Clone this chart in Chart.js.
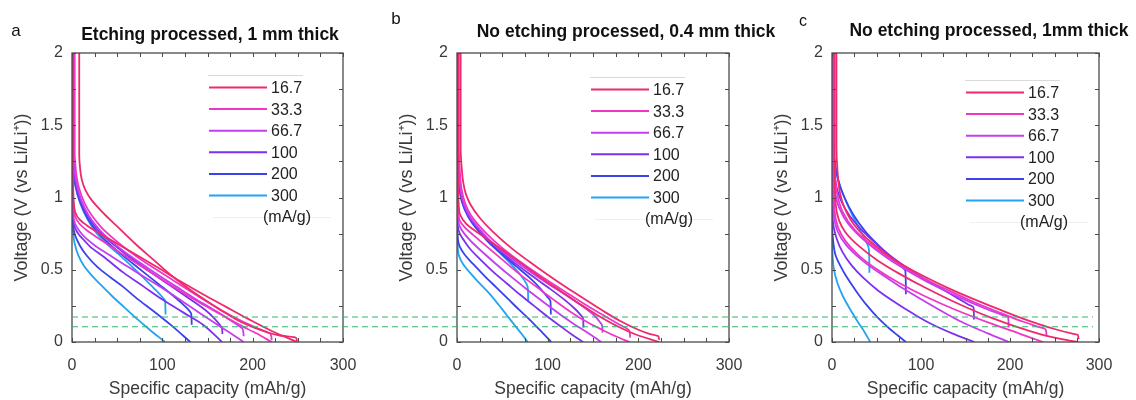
<!DOCTYPE html>
<html><head><meta charset="utf-8">
<script src="https://cdn.jsdelivr.net/npm/chart.js@4.4.1/dist/chart.umd.min.js"></script>
<style>
html,body{margin:0;padding:0;background:#fff;}
#wrap{position:relative;width:1136px;height:400px;overflow:hidden;font-family:"Liberation Sans",Arial,sans-serif;background:#fff;}
canvas{position:absolute;top:0;}
.ttl{position:absolute;font-weight:bold;font-size:17.5px;color:#111;white-space:nowrap;transform:translate(-50%,-50%);line-height:20px;}
.lbl{position:absolute;color:#111;white-space:nowrap;transform:translate(-50%,-50%);line-height:20px;}
</style></head>
<body>
<div id="wrap">
  <canvas id="ca" width="375" height="400" style="left:0px"></canvas>
  <canvas id="cb" width="375" height="400" style="left:380px"></canvas>
  <canvas id="cc" width="376" height="400" style="left:760px"></canvas>
  <canvas id="ov" width="1136" height="400" style="left:0px;pointer-events:none"></canvas>
  <div class="lbl" style="left:16px;top:31px;font-size:17px">a</div>
  <div class="lbl" style="left:396px;top:19px;font-size:17px">b</div>
  <div class="lbl" style="left:803px;top:21px;font-size:16px">c</div>
  <div class="ttl" style="left:210px;top:34px">Etching processed, 1 mm thick</div>
  <div class="ttl" style="left:626px;top:31px">No etching processed, 0.4 mm thick</div>
  <div class="ttl" style="left:989px;top:30px">No etching processed, 1mm thick</div>
</div>
<script>
// ---------- legend / ticks ----------
const rates = ['16.7','33.3','66.7','100','200','300'];
const rateUnit = '(mA/g)';
const colors = ['#ee2a6c','#f036c6','#c43ef0','#7b30f2','#3a42ee','#22a4f2'];
const xTickLabels = [0,100,200,300];
const yTickLabels = [0,0.5,1,1.5,2];
const refLevels = [0.173,0.106];   // green dashed reference voltages

// ---------- panel a: etching processed, 1 mm ----------  [capacity mAh/g, voltage V]
const a16U = [[8,2],[8,1.3],[9,1.2],[11,1.12],[15,1.05],[22,0.98],[35,0.89],[50,0.8],[70,0.68],[90,0.57],[110,0.46],[130,0.365],[150,0.28],[170,0.2],[190,0.13],[210,0.08],[230,0.045],[248,0.03],[249,0.005]];
const a33U = [[3,2],[3,1.3],[3.5,1.25],[5,1.15],[8,1.06],[14,0.96],[22,0.875],[33,0.79],[47,0.71],[62,0.635],[80,0.555],[100,0.475],[120,0.395],[140,0.315],[160,0.24],[180,0.17],[200,0.11],[213,0.075],[220,0.055],[221,0.012]];
const a66U = [[1.5,2],[1.5,1.35],[2,1.25],[3,1.17],[6,1.07],[11,0.97],[19,0.87],[30,0.78],[43,0.7],[58,0.625],[75,0.55],[95,0.465],[115,0.385],[135,0.305],[155,0.23],[172,0.165],[185,0.11],[189,0.09],[190,0.04]];
const a100U = [[1,2],[1,1.35],[1.5,1.25],[2.5,1.17],[5,1.07],[10,0.97],[18,0.87],[28,0.78],[41,0.7],[56,0.625],[72,0.55],[90,0.47],[110,0.385],[130,0.3],[148,0.22],[158,0.16],[164,0.115],[166,0.095],[166.5,0.055]];
const a200U = [[0,2],[0,1.35],[0.5,1.27],[1.5,1.19],[4,1.08],[9,0.97],[17,0.86],[27,0.77],[40,0.685],[54,0.61],[68,0.54],[82,0.47],[96,0.4],[110,0.33],[122,0.265],[130,0.215],[132,0.195],[132.5,0.12]];
const a300U = [[0,2],[0,1.35],[0.5,1.27],[1.5,1.19],[4,1.07],[9,0.96],[17,0.85],[27,0.755],[40,0.67],[53,0.6],[66,0.525],[79,0.445],[91,0.37],[100,0.31],[103,0.285],[103.5,0.19]];
const a16L = [[1,2],[1,1.2],[2,0.97],[3.5,0.9],[8,0.85],[18,0.8],[31,0.75],[50,0.68],[72,0.6],[95,0.515],[120,0.42],[145,0.33],[170,0.245],[195,0.16],[220,0.08],[249,0]];
const a33L = [[0.5,2],[0.5,1.15],[1.5,0.94],[3.3,0.87],[8,0.82],[17,0.77],[30,0.715],[48,0.64],[70,0.55],[94,0.455],[118,0.36],[142,0.27],[165,0.19],[185,0.12],[204,0.06],[221,0]];
const a66L = [[0.3,2],[0.3,1.1],[1.2,0.9],[3.3,0.82],[8,0.77],[15,0.72],[26,0.665],[42,0.6],[62,0.52],[84,0.435],[108,0.34],[132,0.24],[156,0.14],[174,0.067],[190,0]];
const a100L = [[0,2],[0,1.1],[1,0.86],[3.3,0.79],[8,0.74],[14,0.7],[20,0.66],[35,0.59],[57,0.48],[79,0.385],[101,0.29],[123,0.205],[145,0.12],[166,0]];
const a200L = [[0,2],[0,0.95],[1,0.81],[3.3,0.74],[8.5,0.67],[16,0.6],[28,0.52],[42,0.45],[56,0.385],[72,0.3],[90,0.215],[110,0.115],[131,0]];
const a300L = [[0,2],[0,0.9],[1,0.77],[3,0.68],[7,0.6],[13,0.53],[22,0.46],[32,0.395],[44,0.32],[57,0.245],[71,0.165],[87,0.08],[103,0]];

// ---------- panel b: no etching, 0.4 mm ----------
const b16U = [[4,2],[4,1.35],[5,1.22],[7,1.1],[10,1.02],[15,0.95],[25,0.86],[40,0.76],[60,0.65],[80,0.555],[100,0.465],[120,0.38],[140,0.3],[160,0.22],[180,0.145],[200,0.085],[213,0.055],[222,0.04],[223,0.015]];
const b33U = [[2,2],[2,1.35],[3,1.2],[5,1.06],[9,0.96],[15,0.88],[25,0.8],[40,0.705],[60,0.6],[80,0.51],[100,0.425],[120,0.345],[140,0.265],[160,0.19],[178,0.125],[188,0.09],[190,0.078],[191,0.03]];
const b66U = [[1,2],[1,1.35],[2,1.2],[4,1.05],[8,0.95],[15,0.86],[25,0.78],[40,0.68],[60,0.58],[80,0.49],[100,0.405],[120,0.325],[140,0.24],[152,0.18],[158,0.135],[160,0.115],[160.5,0.065]];
const b100U = [[0.5,2],[0.5,1.35],[1.5,1.2],[3.5,1.05],[7,0.95],[14,0.86],[25,0.77],[40,0.67],[60,0.565],[80,0.47],[100,0.38],[118,0.295],[130,0.23],[136,0.19],[139,0.165],[139.5,0.1]];
const b200U = [[0,2],[0,1.35],[1,1.2],[3,1.06],[6,0.96],[12,0.87],[22,0.78],[35,0.69],[50,0.605],[65,0.525],[80,0.445],[92,0.37],[100,0.31],[103,0.285],[103.5,0.19]];
const b300U = [[0,2],[0,1.35],[0.5,1.25],[2,1.08],[5,0.98],[10,0.9],[20,0.8],[32,0.71],[45,0.63],[58,0.55],[68,0.48],[74,0.43],[78,0.38],[78.5,0.28]];
const b16L = [[1,2],[1,1.2],[2,0.94],[3.5,0.88],[10,0.82],[20,0.77],[36,0.7],[55,0.615],[75,0.525],[95,0.435],[115,0.35],[135,0.265],[155,0.185],[175,0.115],[198,0.05],[223,0]];
const b33L = [[0.5,2],[0.5,1.1],[1.5,0.9],[3,0.84],[9,0.79],[18,0.74],[32,0.665],[50,0.57],[69,0.47],[88,0.38],[106,0.295],[125,0.21],[143,0.14],[160,0.085],[175,0.04],[190,0]];
const b66L = [[0.3,2],[0.3,1.05],[1.2,0.86],[3,0.8],[8,0.75],[15,0.7],[25,0.64],[43,0.54],[62,0.44],[80,0.35],[99,0.26],[115,0.185],[130,0.12],[145,0.06],[159,0]];
const b100L = [[0,2],[0,1.0],[1,0.8],[3,0.75],[8,0.7],[15,0.64],[25,0.575],[40,0.485],[55,0.405],[70,0.325],[85,0.25],[100,0.175],[115,0.105],[127,0.05],[139,0]];
const b200L = [[0,2],[0,0.9],[1,0.71],[3,0.66],[9,0.6],[17.7,0.54],[30,0.46],[43,0.38],[56,0.3],[69,0.22],[80,0.155],[91,0.085],[104,0]];
const b300L = [[0,2],[0,0.85],[0.5,0.7],[2,0.6],[6.6,0.54],[15,0.475],[25,0.405],[35,0.34],[45,0.265],[55,0.185],[65,0.105],[72,0.05],[78,0]];

// ---------- panel c: no etching, 1 mm ----------
const c16U = [[5,2],[5,1.35],[6,1.2],[9,1.03],[14,0.93],[25,0.81],[45,0.685],[70,0.57],[100,0.465],[130,0.375],[160,0.295],[190,0.22],[220,0.15],[250,0.09],[270,0.058],[276,0.05],[277,0.02]];
const c33U = [[2,2],[2,1.35],[3,1.2],[6,1.02],[12,0.9],[25,0.78],[45,0.67],[70,0.56],[100,0.45],[130,0.36],[160,0.275],[190,0.2],[215,0.14],[232,0.105],[240,0.088],[241,0.04]];
const c66U = [[0,2],[0,1.4],[1,1.2],[3,1.05],[8,0.93],[18,0.82],[35,0.71],[60,0.59],[90,0.475],[120,0.375],[150,0.29],[175,0.225],[190,0.19],[198,0.17],[198.5,0.1]];
const c100U = [[0,2],[0,1.5],[0.5,1.38],[2,1.2],[6,1.05],[14,0.93],[28,0.81],[46,0.7],[68,0.585],[95,0.47],[120,0.38],[142,0.3],[153,0.26],[159,0.24],[159.5,0.155]];
const c200U = [[0,2],[0,1.55],[1,1.4],[3,1.25],[7,1.12],[14,1.0],[24,0.88],[38,0.76],[52,0.67],[65,0.595],[76,0.535],[82.5,0.49],[83,0.33]];
const c300U = [[0,2],[0,1.55],[1,1.35],[4,1.2],[9,1.08],[16,0.97],[24,0.865],[32,0.77],[38,0.7],[41.5,0.64],[42,0.48]];
const c16L = [[3,2],[3,1.2],[4,0.96],[8,0.84],[15,0.76],[30,0.665],[50,0.57],[75,0.475],[105,0.375],[140,0.27],[180,0.165],[220,0.08],[250,0.03],[276,0]];
const c33L = [[2,2],[2,1.1],[3,0.9],[7,0.79],[15,0.7],[30,0.6],[50,0.505],[75,0.41],[105,0.315],[140,0.22],[180,0.125],[212,0.055],[237,0]];
const c66L = [[1,2],[1,1.0],[2,0.88],[6,0.77],[16,0.67],[35,0.56],[54,0.475],[75,0.39],[95,0.315],[120,0.225],[147,0.135],[175,0.06],[199,0]];
const c100L = [[0.5,2],[0.5,1.0],[1,0.84],[5,0.72],[12,0.62],[22,0.53],[35,0.445],[52,0.355],[72,0.27],[90,0.2],[110,0.13],[135,0.06],[160,0]];
const c200L = [[0,2],[0,0.9],[1,0.72],[4,0.6],[10,0.52],[16,0.455],[28,0.345],[39,0.255],[52,0.165],[65,0.09],[74,0.045],[83,0]];
const c300L = [[0,2],[0,0.8],[0.5,0.62],[2,0.51],[6,0.41],[12,0.32],[20,0.23],[30,0.13],[36,0.075],[43,0]];

const panelA = [[a16U,a16L],[a33U,a33L],[a66U,a66L],[a100U,a100L],[a200U,a200L],[a300U,a300L]];
const panelB = [[b16U,b16L],[b33U,b33L],[b66U,b66L],[b100U,b100L],[b200U,b200L],[b300U,b300L]];
const panelC = [[c16U,c16L],[c33U,c33L],[c66U,c66L],[c100U,c100L],[c200U,c200L],[c300U,c300L]];

const FONT = '"Liberation Sans", Arial, sans-serif';
const TXT = '#3a3a3a';

const framePlugin = {
  id: 'frame',
  afterDatasetsDraw(chart) {
    const {ctx, chartArea: {left, right, top, bottom}, scales: {x, y}} = chart;
    ctx.save();
    ctx.strokeStyle = '#4a4a4a';
    ctx.lineWidth = 1;
    x.ticks.forEach(t => {
      const px = Math.round(x.getPixelForValue(t.value)) + 0.5;
      ctx.beginPath();
      ctx.moveTo(px, bottom); ctx.lineTo(px, bottom - 4);
      ctx.moveTo(px, top); ctx.lineTo(px, top + 4);
      ctx.stroke();
    });
    y.ticks.forEach(t => {
      const py = Math.round(y.getPixelForValue(t.value)) + 0.5;
      ctx.beginPath();
      ctx.moveTo(left, py); ctx.lineTo(left + 4, py);
      ctx.moveTo(right, py); ctx.lineTo(right - 4, py);
      ctx.stroke();
    });
    ctx.lineWidth = 1.3;
    ctx.strokeRect(left, top, right - left, bottom - top);
    ctx.restore();
  }
};

const legendPlugin = {
  id: 'inlegend',
  afterDraw(chart, args, opts) {
    const {ctx, chartArea: {left, top}} = chart;
    const lx = left + opts.dx, ly = top + opts.dy;
    ctx.save();
    ctx.strokeStyle = '#d9d9d9'; ctx.lineWidth = 1;
    ctx.beginPath(); ctx.moveTo(lx - 1, ly + 0.5); ctx.lineTo(lx + 94, ly + 0.5); ctx.stroke();
    ctx.strokeStyle = '#efefef';
    ctx.beginPath(); ctx.moveTo(lx + 4, ly + 142.5); ctx.lineTo(lx + 122, ly + 142.5); ctx.stroke();
    ctx.font = '16px ' + FONT;
    ctx.textBaseline = 'middle';
    ctx.fillStyle = '#222';
    rates.forEach((r, i) => {
      const yy = ly + 12.5 + i * 21.6;
      ctx.strokeStyle = colors[i]; ctx.lineWidth = 2;
      ctx.beginPath(); ctx.moveTo(lx, yy); ctx.lineTo(lx + 58, yy); ctx.stroke();
      ctx.fillText(r, lx + 62, yy + 1);
    });
    ctx.fillText(rateUnit, lx + 54, ly + 142.5);
    ctx.restore();
  }
};

function makePanel(id, pairs, pad, legendDx, legendDy) {
  const datasets = [];
  for (let i = pairs.length - 1; i >= 0; i--) {
    pairs[i].forEach(curve => datasets.push({
      label: rates[i], data: curve, borderColor: colors[i], borderWidth: 1.8,
      pointRadius: 0, indexAxis: 'y', cubicInterpolationMode: 'monotone', fill: false
    }));
  }
  datasets.reverse();
  return new Chart(document.getElementById(id), {
    type: 'line',
    data: { datasets },
    options: {
      responsive: false, animation: false, events: [],
      layout: { padding: { left: pad.l, right: pad.r, top: 53, bottom: 0 } },
      plugins: { legend: { display: false }, tooltip: { enabled: false }, inlegend: { dx: legendDx, dy: legendDy } },
      scales: {
        x: {
          type: 'linear', min: 0, max: 300,
          grid: { display: false, drawTicks: false }, border: { display: false },
          ticks: {
            stepSize: 25, autoSkip: false, maxRotation: 0, padding: 14, color: TXT,
            font: { family: FONT, size: 16 },
            callback: v => xTickLabels.includes(v) ? String(v) : ''
          },
          title: { display: true, text: 'Specific capacity (mAh/g)', color: TXT,
                   font: { family: FONT, size: 17.5 }, padding: { top: 0, bottom: 0 } },
          afterFit(s) { s.height = 58; s.paddingLeft = 0; s.paddingRight = 0; }
        },
        y: {
          type: 'linear', min: 0, max: 2,
          grid: { display: false, drawTicks: false }, border: { display: false },
          ticks: {
            stepSize: 0.25, autoSkip: false, padding: 9, color: TXT,
            font: { family: FONT, size: 16 },
            callback: v => yTickLabels.some(t => Math.abs(t - v) < 1e-9) ? String(+v.toFixed(2)) : ''
          },
          title: { display: true, text: 'Voltage (V (vs Li/Li\u207A))', color: TXT,
                   font: { family: FONT, size: 18 }, padding: { top: 11, bottom: 0 } },
          afterFit(s) { s.width = 72; s.paddingTop = 0; s.paddingBottom = 0; }
        }
      }
    },
    plugins: [framePlugin, legendPlugin]
  });
}

const chA = makePanel('ca', panelA, { l: 0, r: 32 }, 137, 22);
const chB = makePanel('cb', panelB, { l: 5, r: 26 }, 134, 24);
const chC = makePanel('cc', panelC, { l: 0, r: 37 }, 134, 27);

const aArea = chA.chartArea, cArea = chC.chartArea;
new Chart(document.getElementById('ov'), {
  type: 'line',
  data: { datasets: refLevels.map(v => ({
    data: [[0, v], [1, v]], borderColor: '#36b46c', borderWidth: 1.1,
    borderDash: [6, 4], pointRadius: 0, fill: false
  })) },
  options: {
    responsive: false, animation: false, events: [],
    layout: { padding: { left: aArea.left, right: 1136 - (760 + cArea.right - 6),
                         top: aArea.top, bottom: 400 - aArea.bottom } },
    plugins: { legend: { display: false }, tooltip: { enabled: false } },
    scales: { x: { type: 'linear', display: false, min: 0, max: 1 },
              y: { type: 'linear', display: false, min: 0, max: 2 } }
  }
});
</script>
</body></html>
